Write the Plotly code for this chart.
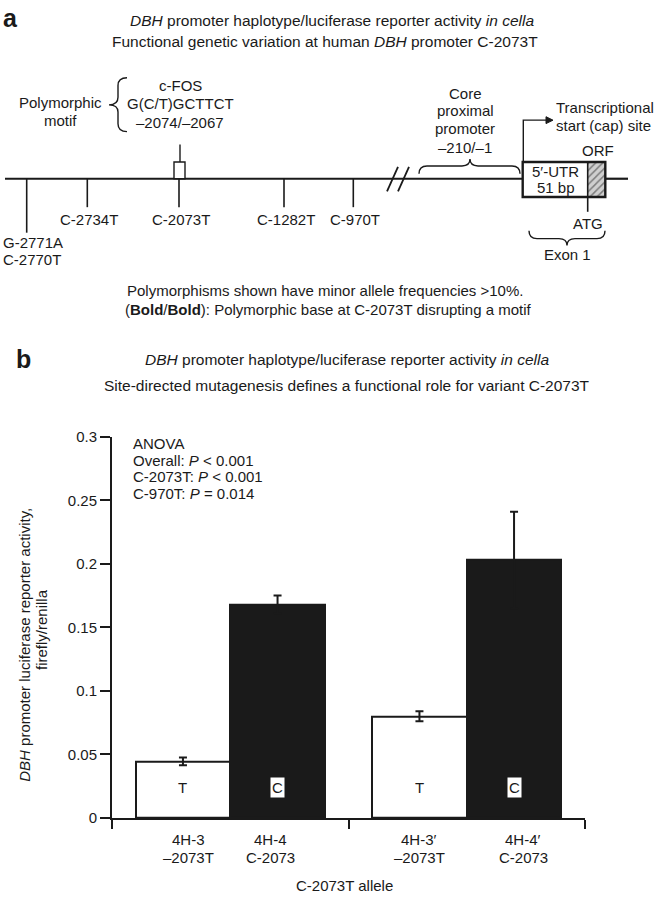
import plotly.graph_objects as go

# ---------------- data ----------------
bar_label_top = ["4H-3", "4H-4", "4H-3′", "4H-4′"]
bar_label_bottom = ["–2073T", "C-2073", "–2073T", "C-2073"]
alleles = ["T", "C", "T", "C"]
activity = [0.0445, 0.168, 0.080, 0.203]
sem = [0.003, 0.007, 0.004, 0.038]
bar_pos = [1, 2, 3.5, 4.5]
ytick_vals = [0, 0.05, 0.1, 0.15, 0.2, 0.25, 0.3]
ytick_text = ["0", "0.05", "0.1", "0.15", "0.2", "0.25", "0.3"]
group_edges = [0.25, 2.75, 5.25]
anova_lines = ["ANOVA", "Overall: <i>P</i> < 0.001", "C-2073T: <i>P</i> < 0.001", "C-970T: <i>P</i> = 0.014"]

snp_labels = ["C-2734T", "C-2073T", "C-1282T", "C-970T"]
snp_x = [87.3, 179, 284, 353.3]

# ---------------- styles ----------------
FONT = "Liberation Sans, Arial, Helvetica, sans-serif"
INK = "#1a1a1a"
FS = 15
W, H = 655, 899
bar_colors = ["white", INK, "white", INK]
label_xshift = [6, -7, 0, 9]

fig = go.Figure()

fig.add_trace(go.Bar(
    x=bar_pos, y=activity, width=1,
    marker=dict(color=bar_colors, line=dict(color=INK, width=2)),
    error_y=dict(type="data", array=sem, color=INK, thickness=2, width=4),
    xaxis="x", yaxis="y", hoverinfo="skip", showlegend=False,
))

# hatched ORF region (diagram, pixel axes)
fig.add_trace(go.Scatter(
    x=[587.7, 605.3, 605.3, 587.7, 587.7], y=[156, 156, 191.7, 191.7, 156],
    mode="lines", fill="toself", line=dict(width=0, color="rgba(0,0,0,0)"),
    fillcolor="#c8c8c8",
    fillpattern=dict(shape="/", bgcolor="#cfcfcf", fgcolor="#2a2a2a", size=5, solidity=0.3),
    xaxis="x2", yaxis="y2", hoverinfo="skip", showlegend=False,
))

shapes = []
def line(x0, y0, x1, y1, w=1.6):
    shapes.append(dict(type="line", xref="x2", yref="y2", x0=x0, y0=y0, x1=x1, y1=y1,
                       line=dict(color=INK, width=w)))
def path(p, w=1.4, fill=None):
    d = dict(type="path", xref="x2", yref="y2", path=p, line=dict(color=INK, width=w))
    if fill:
        d["fillcolor"] = fill
    shapes.append(d)

# baseline (interrupted by exon box)
line(5, 173, 522.7, 173, 2.2)
line(605.3, 173, 628, 173, 2.2)
# SNP ticks
line(26.7, 173, 26.7, 228)
for sx in snp_x:
    line(sx, 173, sx, 202)
# motif box + stem
shapes.append(dict(type="rect", xref="x2", yref="y2", x0=174, x1=185, y0=156, y1=173,
                   line=dict(color=INK, width=1.4), fillcolor="white"))
line(180, 138, 180, 156, 1.4)
# break marks
line(387, 186, 398, 161, 1.8)
line(398, 186, 409, 161, 1.8)
# core promoter brace (opening downward)
path("M 419,168 Q 419,160 427,160 L 462,160 Q 470,160 470,153 Q 470,160 478,160 "
     "L 512,160 Q 520,160 520,168")
# exon box outline
shapes.append(dict(type="rect", xref="x2", yref="y2", x0=522.7, x1=605.3, y0=156, y1=191.7,
                   line=dict(color=INK, width=2.4), fillcolor="rgba(0,0,0,0)"))
line(587.7, 156, 587.7, 206.7, 1.6)
# exon brace (opening upward)
path("M 529,226 Q 529,234 537,234 L 559,234 Q 567,234 567,241 Q 567,234 575,234 "
     "L 597,234 Q 605,234 605,226")
# transcription start arrow
path("M 523.3,156 L 523.3,113.3 L 547,113.3", w=1.4)
path("M 546,109.8 L 553,113.3 L 546,116.8 Z", w=1, fill=INK)
# motif brace (left curly)
path("M 127,70 Q 118,70 118,78 L 118,90 Q 118,97.7 109,97.7 Q 118,97.7 118,105 "
     "L 118,117 Q 118,125 127,125")

ann = []
def txt(x, y, s, size=FS, xanchor="center", yanchor="middle", align="center", **kw):
    ann.append(dict(x=x, y=y, xref=kw.pop("xref", "x2"), yref=kw.pop("yref", "y2"), text=s,
                    showarrow=False, xanchor=xanchor, yanchor=yanchor, align=align,
                    font=dict(family=FONT, size=size, color=INK), **kw))

# panel a text
txt(10, 9, "<b>a</b>", size=25)
txt(332, 12, "<i>DBH</i> promoter haplotype/luciferase reporter activity <i>in cella</i>", size=15.5)
txt(325, 33, "Functional genetic variation at human <i>DBH</i> promoter C-2073T", size=15.5)
txt(60, 95.7, "Polymorphic")
txt(60, 114, "motif")
txt(180, 77.7, "c-FOS")
txt(180, 96.7, "G(C/T)GCTTCT")
txt(180, 115.7, "–2074/–2067")
txt(465, 85.7, "Core")
txt(465, 103.3, "proximal")
txt(465, 121.7, "promoter")
txt(465, 141, "–210/–1")
txt(554, 100, "Transcriptional", xanchor="left")
txt(554, 118.3, "start (cap) site", xanchor="left")
txt(598.3, 144.3, "ORF")
txt(555.5, 166, "5′-UTR")
txt(555.5, 182, "51 bp")
txt(587.5, 218.3, "ATG")
txt(567, 250, "Exon 1")
txt(1, 238, "G-2771A", xanchor="left")
txt(1, 255, "C-2770T", xanchor="left")
for lab, sx in zip(snp_labels, snp_x):
    txt(sx + 2, 215, lab)
txt(325, 287, "Polymorphisms shown have minor allele frequencies >10%.")
txt(328, 306, "(<b>Bold</b>/<b>Bold</b>): Polymorphic base at C-2073T disrupting a motif")

# panel b text
txt(23, 357, "<b>b</b>", size=25)
txt(347, 357, "<i>DBH</i> promoter haplotype/luciferase reporter activity <i>in cella</i>", size=15.5)
txt(346.5, 384, "Site-directed mutagenesis defines a functional role for variant C-2073T", size=15.5)
for i, s in enumerate(anova_lines):
    txt(131, 443 + 17 * i, s, xanchor="left")
txt(25, 648, "<i>DBH</i> promoter luciferase reporter activity,", textangle=-90)
txt(41, 633, "firefly/renilla", textangle=-90)
txt(344, 893, "C-2073T allele")

# bar annotations through the data axes
for xp, top, bot, al, sh in zip(bar_pos, bar_label_top, bar_label_bottom, alleles, label_xshift):
    ann.append(dict(x=xp, y=847, xref="x", yref="y2", text=top, showarrow=False,
                    xshift=sh, font=dict(family=FONT, size=FS, color=INK)))
    ann.append(dict(x=xp, y=865, xref="x", yref="y2", text=bot, showarrow=False,
                    xshift=sh, font=dict(family=FONT, size=FS, color=INK)))
    a = dict(x=xp, y=0.024, xref="x", yref="y", text=al, showarrow=False,
             font=dict(family=FONT, size=FS, color=INK))
    if al == "C":
        a.update(bgcolor="white", borderpad=1)
    ann.append(a)

fig.update_layout(
    width=W, height=H, margin=dict(l=0, r=0, t=0, b=0),
    paper_bgcolor="white", plot_bgcolor="rgba(0,0,0,0)",
    font=dict(family=FONT, size=FS, color=INK),
    showlegend=False, bargap=0,
    xaxis=dict(domain=[112 / W, 585 / W], range=[0.25, 5.25], tickvals=group_edges,
               showticklabels=False, ticks="outside", ticklen=9, tickwidth=2, tickcolor=INK,
               showline=True, linewidth=2, linecolor=INK, showgrid=False, zeroline=False,
               anchor="y", fixedrange=True),
    yaxis=dict(domain=[(H - 824.5) / H, (H - 436) / H], range=[0, 0.3], tickvals=ytick_vals,
               ticktext=ytick_text, ticks="outside", ticklen=10, tickwidth=2, tickcolor=INK,
               showline=True, linewidth=2, linecolor=INK, showgrid=False, zeroline=False,
               tickfont=dict(family=FONT, size=FS, color=INK), anchor="x", fixedrange=True),
    xaxis2=dict(domain=[0, 1], range=[0, W], visible=False, anchor="y2", fixedrange=True),
    yaxis2=dict(domain=[0, 1], range=[H, 0], visible=False, anchor="x2", fixedrange=True),
    shapes=shapes, annotations=ann,
)

fig.write_html("out.html", config={"displayModeBar": False},
               post_script="document.body.style.margin='0';document.body.style.padding='0';")
